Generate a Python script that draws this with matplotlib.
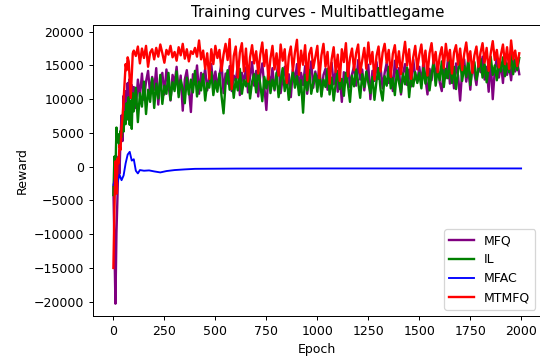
import numpy as np
import matplotlib.pyplot as plt

# epochs for the noisy runs: every 5 epochs early on, then every 10
epochs = list(range(0, 100, 5)) + list(range(100, 2000, 10))

mfq = [-3000, -12000, -20300, -9800, -4500, 1500, -1000, 4500, 7600, 3800,
       10500, 6500, 11200, 8100, 12400, 9000, 13000, 10200, 12100, 9400,
       11800, 8700, 12900, 10400, 13800, 9900, 12600, 14200, 10800, 13300,
       11400, 14600, 9200, 12800, 13900, 10700, 14400, 12100, 9800, 13600,
       12400, 14800, 10900, 13500, 8300, 12900, 14300, 11600, 8100, 13700,
       12200, 15000, 10800, 13900, 12600, 14500, 11300, 13200, 15200, 12000,
       14100, 11700, 13600, 15400, 10900, 13800, 12300, 14900, 11200, 13500,
       12700, 15100, 10600, 13900, 12400, 14700, 11000, 13300, 15500, 12000,
       14200, 10400, 13600, 15300, 11800, 8400, 13800, 12200, 14600, 11300,
       13400, 15700, 10900, 13100, 14800, 11900, 13700, 10300, 14400, 12600,
       15200, 11500, 13900, 12100, 14900, 10800, 13200, 15600, 11700, 14100,
       12300, 15000, 10700, 13600, 14500, 11400, 13800, 15400, 12200, 14300,
       11100, 13500, 9600, 14000, 12500, 15300, 11800, 13700, 14900, 12000,
       15800, 12900, 14400, 11300, 13600, 15100, 10000, 14200, 12700, 15500,
       13000, 14700, 11600, 13900, 15400, 12400, 14100, 11200, 15700, 13300,
       14600, 10700, 13800, 15200, 12100, 14400, 11900, 15900, 13400, 12600,
       14800, 12200, 15600, 13000, 10700, 14500, 12800, 16000, 13400, 15100,
       12500, 11200, 14700, 13100, 15800, 12300, 14900, 11600, 15300, 13500,
       9800, 14200, 15900, 12600, 14600, 11400, 15500, 13800, 12100, 15200,
       14000, 16300, 12900, 14800, 11100, 15700, 10000, 14300, 16100, 13200,
       15400, 12400, 16500, 13600, 15000, 12800, 16200, 14100, 15600, 13700]

il = [-4200, 1500, -800, 5800, 3600, 4800, 2900, 5300, 4400, 6900,
      5200, 8100, 6300, 9400, 7000, 10300, 6200, 9800, 5600, 10900,
      8200, 11700, 6600, 10900, 8900, 12600, 7800, 11400, 9600, 13100,
      8700, 12300, 10100, 13600, 9300, 12000, 10800, 13900, 9900, 12500,
      11200, 14100, 10300, 12800, 11500, 9400, 13200, 10700, 12900, 11000,
      14200, 10400, 12600, 11300, 13700, 9800, 12400, 11700, 14000, 10600,
      12700, 11100, 13800, 10500, 7900, 12300, 14300, 11400, 13500, 10200,
      13000, 11300, 14500, 10800, 12800, 11900, 14200, 10100, 12600, 13700,
      11000, 14400, 12200, 9700, 13300, 11600, 14000, 10900, 12900, 11500,
      13900, 10300, 12700, 14600, 11200, 13100, 9900, 12400, 14100, 11700,
      13400, 10600, 12800, 8000, 13600, 11300, 14300, 10800, 12500, 13800,
      11100, 14000, 10400, 12900, 11800, 14500, 10700, 13200, 9800, 12300,
      14200, 11500, 13000, 10500, 13900, 12100, 9600, 13500, 11900, 14400,
      12600, 10200, 13700, 11800, 14100, 12400, 10900, 13300, 9900, 12700,
      14600, 11400, 9800, 13400, 12000, 14800, 11600, 13100, 10600, 14200,
      12500, 11000, 13800, 12200, 14700, 10300, 13500, 11900, 14000, 12400,
      13900, 11600, 14600, 12300, 15100, 11300, 13700, 15400, 12000, 14300,
      12800, 15600, 11800, 14500, 13100, 15800, 12400, 14800, 11500, 14100,
      15900, 12700, 14900, 13300, 16100, 12100, 14600, 15500, 12900, 14400,
      16000, 13200, 15200, 12500, 14700, 16300, 13600, 15000, 12800, 15700,
      14100, 16200, 13400, 15300, 14000, 16600, 13700, 15900, 14300, 16100]

mtmfq = [-15000, -6500, 800, -4000, 1200, 500, 3200, 2500, 5800, 7500,
         9800, 12500, 15200, 14300, 16200, 15600, 12800, 10200, 13500, 16800,
         17200, 16400, 17800, 15300, 17500, 16100, 17900, 14800, 16900, 17400,
         15900, 17600, 16300, 18100, 16800, 15400, 17300, 16600, 17900, 16200,
         17000, 15700, 17700, 16500, 18200, 16000, 17400, 15600, 17100, 16700,
         17600, 16300, 18700, 15900, 17200, 14500, 16800, 13000, 17400, 15200,
         17900, 16100, 17300, 14200, 16600, 18200, 15800, 18900, 11500, 16400,
         17800, 13200, 16900, 18300, 14100, 17500, 12600, 16200, 18000, 15300,
         17100, 13800, 16600, 18400, 14900, 17300, 12900, 16000, 17900, 14400,
         16800, 13500, 18100, 15700, 17400, 12400, 16300, 17800, 14200, 16900,
         18800, 13600, 17200, 15100, 18000, 12800, 16700, 17600, 14600, 16200,
         17900, 13100, 16500, 18200, 14800, 17000, 12300, 15900, 17700, 14000,
         16600, 12700, 17400, 15500, 18300, 13400, 16100, 17500, 14300, 16800,
         18100, 13900, 15800, 17600, 14500, 18400, 15200, 17000, 12900, 16400,
         17800, 14100, 16900, 18200, 15400, 17300, 13300, 16700, 18000, 14700,
         17100, 13700, 16300, 18500, 15000, 17400, 13000, 16200, 17900, 14400,
         16600, 18100, 14900, 17200, 13500, 16800, 18300, 15300, 17000, 14000,
         16400, 17700, 14600, 18200, 15700, 17300, 13800, 16900, 18000, 15100,
         17500, 14300, 16700, 18400, 15600, 17100, 13900, 16500, 17800, 14800,
         16900, 18300, 15400, 17600, 14200, 16800, 18600, 15800, 17300, 14700,
         16600, 18100, 15200, 17700, 14500, 18700, 15900, 17200, 14900, 16800]

# MFAC is smooth, so a coarse set of points is enough
mfac_epochs = [0, 10, 20, 30, 40, 50, 60, 70, 80, 90, 100, 110, 120, 130, 150,
               175, 200, 230, 260, 300, 350, 400, 500, 600, 800, 1000, 1200,
               1500, 1800, 1999]
mfac = [-2700, -1500, -2300, -1200, -2000, -1300, 500, 1800, 2200, 900,
        1100, -600, -1000, -500, -600, -550, -700, -850, -650, -500, -400,
        -320, -300, -280, -270, -260, -260, -260, -260, -260]

fig = plt.figure(figsize=(6, 364 / 90), dpi=90)
ax = fig.add_axes([93 / 540, 48 / 364, 448.5 / 540, 291 / 364])

ax.plot(epochs, mfq, color='purple', lw=1.9, label='MFQ')
ax.plot(epochs, il, color='green', lw=1.9, label='IL')
ax.plot(mfac_epochs, mfac, color='blue', lw=1.5, label='MFAC')
ax.plot(epochs, mtmfq, color='red', lw=1.9, label='MTMFQ')

ax.set_xlim(-100, 2099)
ax.set_ylim(-22120, 20990)
ax.set_xticks(np.arange(0, 2001, 250))
ax.set_yticks(np.arange(-20000, 20001, 5000))

ax.set_title('Training curves - Multibattlegame')
ax.set_xlabel('Epoch')
ax.set_ylabel('Reward')
ax.legend(loc='lower right')

fig.savefig('out.png', dpi=90)
